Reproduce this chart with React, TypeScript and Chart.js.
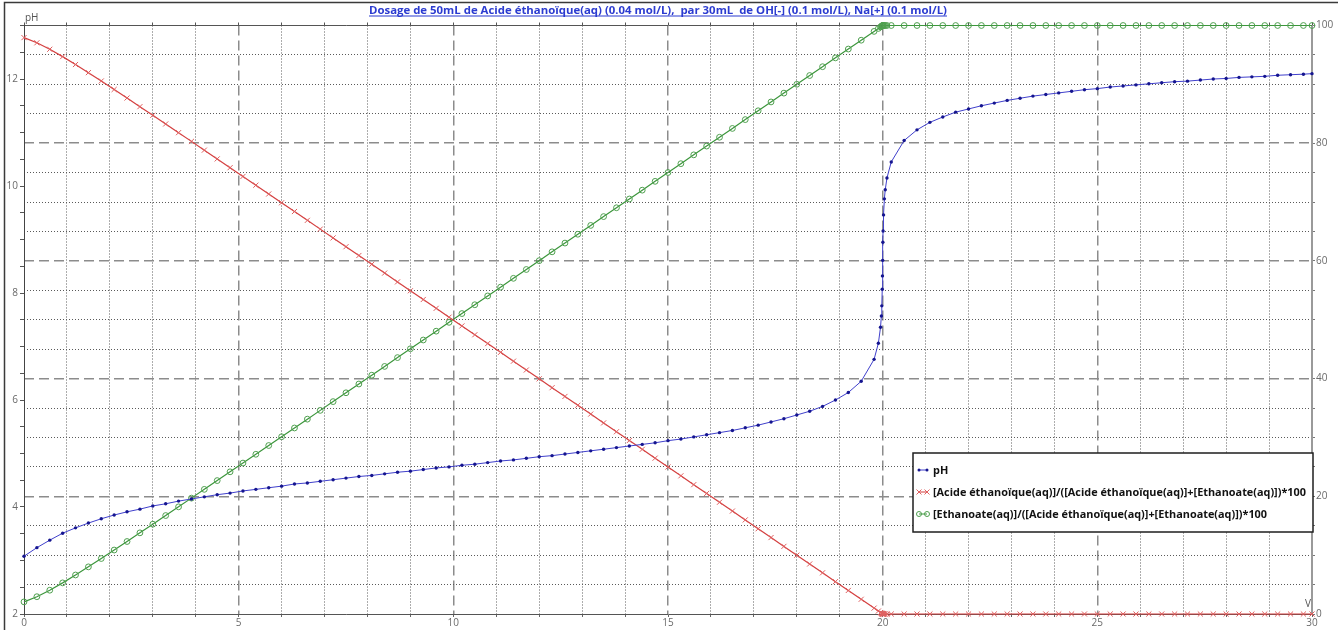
import React, { useEffect, useRef } from 'react';
import { Chart, registerables } from 'chart.js';

Chart.register(...registerables);

const TITLE = 'Dosage de 50mL de Acide éthanoïque(aq) (0.04 mol/L),  par 30mL  de OH[-] (0.1 mol/L), Na[+] (0.1 mol/L)';
const seriesLabels = [
  'pH',
  '[Acide éthanoïque(aq)]/([Acide éthanoïque(aq)]+[Ethanoate(aq)])*100',
  '[Ethanoate(aq)]/([Acide éthanoïque(aq)]+[Ethanoate(aq)])*100',
];
const xAxisLabel = 'V';
const yAxisLabel = 'pH';
const xTickLabels = [0, 5, 10, 15, 20, 25, 30];
const phTickLabels = [2, 4, 6, 8, 10, 12];
const pctTickLabels = [0, 20, 40, 60, 80, 100];

const volumes = [
  0, 0.3, 0.6, 0.9, 1.2, 1.5, 1.8, 2.1, 2.4, 2.7,
  3, 3.3, 3.6, 3.9, 4.2, 4.5, 4.8, 5.1, 5.4, 5.7,
  6, 6.3, 6.6, 6.9, 7.2, 7.5, 7.8, 8.1, 8.4, 8.7,
  9, 9.3, 9.6, 9.9, 10.2, 10.5, 10.8, 11.1, 11.4, 11.7,
  12, 12.3, 12.6, 12.9, 13.2, 13.5, 13.8, 14.1, 14.4, 14.7,
  15, 15.3, 15.6, 15.9, 16.2, 16.5, 16.8, 17.1, 17.4, 17.7,
  18, 18.3, 18.6, 18.9, 19.2, 19.5, 19.8,
  19.9, 19.95, 19.97, 19.98, 19.99, 19.995, 20, 20.005, 20.01, 20.02, 20.04, 20.06, 20.1, 20.2,
  20.5, 20.8, 21.1, 21.4, 21.7, 22, 22.3, 22.6, 22.9, 23.2,
  23.5, 23.8, 24.1, 24.4, 24.7, 25, 25.3, 25.6, 25.9, 26.2,
  26.5, 26.8, 27.1, 27.4, 27.7, 28, 28.3, 28.6, 28.9, 29.2,
  29.5, 29.8, 30,
];

const phValues = [
  3.08, 3.24, 3.38, 3.51, 3.61, 3.70, 3.78, 3.85, 3.91, 3.96,
  4.02, 4.06, 4.11, 4.15, 4.19, 4.23, 4.26, 4.30, 4.33, 4.36,
  4.39, 4.43, 4.45, 4.48, 4.51, 4.54, 4.57, 4.59, 4.62, 4.65,
  4.67, 4.70, 4.73, 4.75, 4.78, 4.80, 4.83, 4.86, 4.88, 4.91,
  4.94, 4.96, 4.99, 5.02, 5.05, 5.08, 5.11, 5.14, 5.17, 5.20,
  5.24, 5.27, 5.31, 5.35, 5.39, 5.43, 5.48, 5.53, 5.59, 5.65,
  5.72, 5.79, 5.88, 6.00, 6.14, 6.35, 6.76,
  7.06, 7.36, 7.57, 7.76, 8.07, 8.32, 8.61, 8.95, 9.16, 9.46, 9.76, 9.93, 10.15, 10.45,
  10.85, 11.05, 11.19, 11.29, 11.38, 11.44, 11.50, 11.55, 11.60, 11.64,
  11.68, 11.71, 11.74, 11.77, 11.80, 11.82, 11.85, 11.87, 11.89, 11.91,
  11.93, 11.95, 11.96, 11.98, 12.00, 12.01, 12.03, 12.04, 12.05, 12.07,
  12.08, 12.09, 12.10,
];

const acideValues = [
  97.94, 97.06, 95.96, 94.71, 93.37, 91.99, 90.57, 89.13, 87.68, 86.21,
  84.74, 83.27, 81.79, 80.31, 78.82, 77.33, 75.84, 74.35, 72.86, 71.37,
  69.88, 68.39, 66.89, 65.40, 63.91, 62.41, 60.92, 59.42, 57.93, 56.43,
  54.93, 53.44, 51.94, 50.44, 48.95, 47.45, 45.95, 44.46, 42.96, 41.46,
  39.96, 38.46, 36.97, 35.47, 33.97, 32.47, 30.97, 29.48, 27.98, 26.48,
  24.98, 23.48, 21.98, 20.49, 18.99, 17.49, 15.99, 14.49, 12.99, 11.49,
  9.99, 8.50, 7.00, 5.50, 4.00, 2.50, 1.00,
  0.50, 0.25, 0.15, 0.10, 0.05, 0.03, 0.01, 0, 0, 0, 0, 0, 0, 0,
  0, 0, 0, 0, 0, 0, 0, 0, 0, 0,
  0, 0, 0, 0, 0, 0, 0, 0, 0, 0,
  0, 0, 0, 0, 0, 0, 0, 0, 0, 0,
  0, 0, 0,
];

const ethanoateValues = [
  2.06, 2.94, 4.04, 5.29, 6.63, 8.01, 9.43, 10.87, 12.32, 13.79,
  15.26, 16.73, 18.21, 19.69, 21.18, 22.67, 24.16, 25.65, 27.14, 28.63,
  30.12, 31.61, 33.11, 34.60, 36.09, 37.59, 39.08, 40.58, 42.07, 43.57,
  45.07, 46.56, 48.06, 49.56, 51.05, 52.55, 54.05, 55.54, 57.04, 58.54,
  60.04, 61.54, 63.03, 64.53, 66.03, 67.53, 69.03, 70.52, 72.02, 73.52,
  75.02, 76.52, 78.02, 79.51, 81.01, 82.51, 84.01, 85.51, 87.01, 88.51,
  90.01, 91.50, 93.00, 94.50, 96.00, 97.50, 99.00,
  99.50, 99.75, 99.85, 99.90, 99.95, 99.97, 99.99, 100, 100, 100, 100, 100, 100, 100,
  100, 100, 100, 100, 100, 100, 100, 100, 100, 100,
  100, 100, 100, 100, 100, 100, 100, 100, 100, 100,
  100, 100, 100, 100, 100, 100, 100, 100, 100, 100,
  100, 100, 100,
];

const FONT = '"Open Sans", "Noto Sans", sans-serif';
const TICK_COLOR = '#6a6a6a';
const DOT_GRID = '#5a5a5a';
const DASH_GRID = '#8c8c8c';
const TRANSPARENT = 'rgba(0,0,0,0)';
const seriesColors = {
  line: ['#4040cc', '#d43f3f', '#3c963c'],
  point: ['#15158f', '#e06060', '#4fa04f'],
};

const decorPlugin = {
  id: 'decor',
  beforeDraw(chart: any) {
    const { ctx, width, height } = chart;
    ctx.save();
    ctx.fillStyle = '#ffffff';
    ctx.fillRect(0, 0, width, height);
    ctx.strokeStyle = '#3a3a3a';
    ctx.lineWidth = 1.5;
    ctx.beginPath();
    ctx.moveTo(4.5, height);
    ctx.lineTo(4.5, 2.5);
    ctx.lineTo(width, 2.5);
    ctx.stroke();
    ctx.restore();
  },
  afterDraw(chart: any) {
    const { ctx, chartArea } = chart;
    ctx.save();
    // Title
    ctx.font = 'bold 11.4px ' + FONT;
    ctx.fillStyle = '#2b3bd0';
    ctx.textAlign = 'center';
    ctx.textBaseline = 'alphabetic';
    const cx = 658;
    ctx.fillText(TITLE, cx, 14);
    const w = ctx.measureText(TITLE).width;
    ctx.fillRect(cx - w / 2, 15.5, w, 1);
    // axis names
    ctx.font = '10px ' + FONT;
    ctx.fillStyle = '#555';
    ctx.textAlign = 'left';
    ctx.fillText(yAxisLabel, chartArea.left + 1, chartArea.top - 5);
    ctx.textAlign = 'right';
    ctx.fillText(xAxisLabel, chartArea.right - 1, chartArea.bottom - 7);

    // Legend
    const l = chartArea.right - 399;
    const r = chartArea.right + 1;
    const t = chartArea.top + 427.5;
    const b = chartArea.top + 506.5;
    ctx.fillStyle = '#ffffff';
    ctx.fillRect(l, t, r - l, b - t);
    ctx.strokeStyle = '#1e1e1e';
    ctx.lineWidth = 1.5;
    ctx.strokeRect(l, t, r - l, b - t);
    const rows = [t + 17, t + 39, t + 61];
    ctx.font = 'bold 11px ' + FONT;
    const baseW = ctx.measureText(seriesLabels[1]).width;
    const fs = Math.min(12.5, (11 * 373) / baseW);
    ctx.font = 'bold ' + fs.toFixed(2) + 'px ' + FONT;
    ctx.textBaseline = 'middle';
    ctx.textAlign = 'left';
    seriesLabels.forEach((label, i) => {
      const y = rows[i];
      const x1 = l + 6;
      const x2 = l + 14;
      ctx.strokeStyle = seriesColors.line[i];
      ctx.lineWidth = 1;
      ctx.beginPath();
      ctx.moveTo(x1, y);
      ctx.lineTo(x2, y);
      ctx.stroke();
      [x1, x2].forEach((px) => {
        ctx.strokeStyle = seriesColors.point[i];
        ctx.fillStyle = seriesColors.point[i];
        if (i === 0) {
          ctx.beginPath();
          ctx.arc(px, y, 1.5, 0, Math.PI * 2);
          ctx.fill();
        } else if (i === 1) {
          ctx.beginPath();
          ctx.moveTo(px - 2.5, y - 2.5);
          ctx.lineTo(px + 2.5, y + 2.5);
          ctx.moveTo(px - 2.5, y + 2.5);
          ctx.lineTo(px + 2.5, y - 2.5);
          ctx.stroke();
        } else {
          ctx.beginPath();
          ctx.arc(px, y, 2.5, 0, Math.PI * 2);
          ctx.stroke();
        }
      });
      ctx.fillStyle = '#111111';
      ctx.fillText(label, l + 20, y + 0.5);
    });
    ctx.restore();
  },
};

export default function App() {
  const ref = useRef<HTMLCanvasElement | null>(null);

  useEffect(() => {
    if (!ref.current) return;
    const toPoints = (vals: number[]) => volumes.map((v, i) => ({ x: v, y: vals[i] }));
    const chart = new Chart(ref.current, {
      type: 'line',
      data: {
        datasets: [
          {
            label: seriesLabels[0],
            data: toPoints(phValues),
            yAxisID: 'y',
            borderColor: seriesColors.line[0],
            borderWidth: 1,
            pointStyle: 'circle',
            pointRadius: 1.7,
            pointBackgroundColor: seriesColors.point[0],
            pointBorderColor: seriesColors.point[0],
            pointBorderWidth: 0,
            tension: 0,
            clip: false,
          },
          {
            label: seriesLabels[1],
            data: toPoints(acideValues),
            yAxisID: 'y2',
            borderColor: seriesColors.line[1],
            borderWidth: 1.2,
            pointStyle: 'crossRot',
            pointRadius: 3.6,
            pointBackgroundColor: TRANSPARENT,
            pointBorderColor: seriesColors.point[1],
            pointBorderWidth: 1,
            tension: 0,
            clip: false,
          },
          {
            label: seriesLabels[2],
            data: toPoints(ethanoateValues),
            yAxisID: 'y2',
            borderColor: seriesColors.line[2],
            borderWidth: 1.2,
            pointStyle: 'circle',
            pointRadius: 2.9,
            pointBackgroundColor: TRANSPARENT,
            pointBorderColor: seriesColors.point[2],
            pointBorderWidth: 1,
            tension: 0,
            clip: false,
          },
        ],
      },
      options: {
        animation: false,
        responsive: false,
        maintainAspectRatio: false,
        devicePixelRatio: 1,
        layout: { padding: { top: 25.5, left: 0, right: 0, bottom: 0 } },
        plugins: {
          legend: { display: false },
          tooltip: { enabled: false },
          title: { display: false },
        },
        scales: {
          x: {
            type: 'linear',
            position: 'bottom',
            min: 0,
            max: 30,
            afterFit: (s: any) => { s.height = 16; },
            ticks: {
              stepSize: 1,
              autoSkip: false,
              maxRotation: 0,
              padding: 0,
              color: TICK_COLOR,
              font: { family: FONT, size: 10 },
              callback: (v: any) => (xTickLabels.includes(v) ? String(v) : ''),
            },
            grid: {
              color: (c: any) => (c.tick && c.tick.value % 5 === 0 ? TRANSPARENT : DOT_GRID),
              lineWidth: 1,
              drawTicks: true,
              tickLength: 3,
              tickColor: '#666',
            },
            border: { display: true, color: '#555', width: 1, dash: [1, 2] },
          },
          xDash: {
            type: 'linear',
            position: 'bottom',
            min: 0,
            max: 30,
            afterFit: (s: any) => { s.height = 0; },
            ticks: { stepSize: 5, autoSkip: false, display: false },
            grid: {
              color: (c: any) => (c.tick && (c.tick.value === 0 || c.tick.value === 30) ? TRANSPARENT : DASH_GRID),
              lineWidth: 1.5,
              drawTicks: false,
            },
            border: { display: false, dash: [10, 5] },
          },
          xTop: {
            type: 'linear',
            position: 'top',
            min: 0,
            max: 30,
            afterFit: (s: any) => { s.height = 0; },
            ticks: { stepSize: 1, autoSkip: false, display: false },
            grid: { drawOnChartArea: false, drawTicks: true, tickLength: 3, tickColor: '#555' },
            border: { display: true, color: '#555', width: 1 },
          },
          y: {
            type: 'linear',
            position: 'left',
            min: 2,
            max: 13,
            afterFit: (s: any) => { s.width = 24; },
            ticks: {
              stepSize: 0.5,
              autoSkip: false,
              padding: 2,
              color: TICK_COLOR,
              font: { family: FONT, size: 10 },
              callback: (v: any) => (phTickLabels.includes(v) ? String(v) : ''),
            },
            grid: { drawOnChartArea: false, drawTicks: true, tickLength: 4, tickColor: '#555' },
            border: { display: true, color: '#444', width: 1 },
          },
          y2: {
            type: 'linear',
            position: 'right',
            min: 0,
            max: 100,
            afterFit: (s: any) => { s.width = 26; },
            ticks: {
              stepSize: 5,
              autoSkip: false,
              padding: 1,
              color: TICK_COLOR,
              font: { family: FONT, size: 10 },
              callback: (v: any) => (pctTickLabels.includes(v) ? String(v) : ''),
            },
            grid: {
              color: (c: any) => (c.tick && c.tick.value % 20 === 0 ? TRANSPARENT : DOT_GRID),
              lineWidth: 1,
              drawTicks: true,
              tickLength: 3,
              tickColor: '#777',
            },
            border: { display: true, color: '#9a9a9a', width: 2, dash: [1, 2] },
          },
          y2Dash: {
            type: 'linear',
            position: 'right',
            min: 0,
            max: 100,
            afterFit: (s: any) => { s.width = 0; },
            ticks: { stepSize: 20, autoSkip: false, display: false },
            grid: {
              color: (c: any) => (c.tick && (c.tick.value === 0 || c.tick.value === 100) ? TRANSPARENT : DASH_GRID),
              lineWidth: 1.5,
              drawTicks: false,
            },
            border: { display: false, dash: [10, 5] },
          },
        },
      },
      plugins: [decorPlugin],
    } as any);
    return () => chart.destroy();
  }, []);

  return (
    <div style={{ position: 'fixed', left: 0, top: 0, width: 1338, height: 630, background: '#fff' }}>
      <canvas ref={ref} width={1338} height={630} style={{ display: 'block' }} />
    </div>
  );
}
